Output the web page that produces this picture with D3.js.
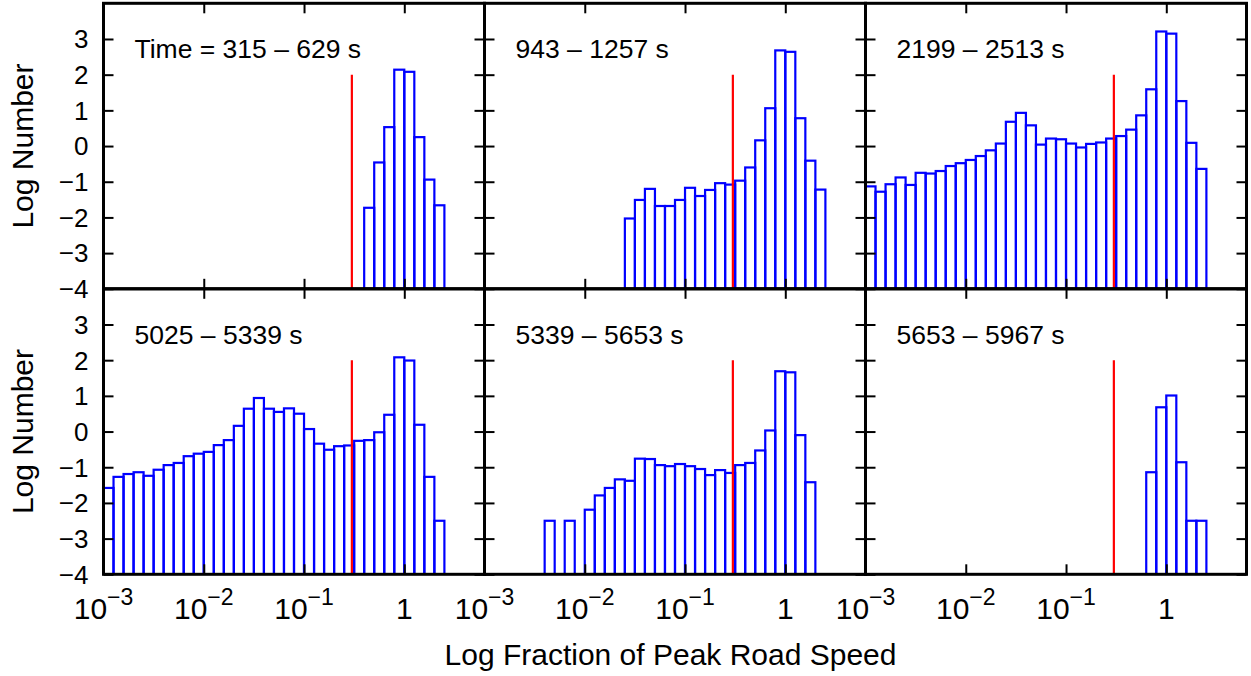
<!DOCTYPE html>
<html><head><meta charset="utf-8">
<script src="https://cdn.jsdelivr.net/npm/d3@7"></script>
<style>
body{margin:0;background:#fff}
svg{display:block}
text{font-family:"Liberation Sans",Arial,Helvetica,sans-serif;fill:#000}
</style>
</head><body>
<svg id="chart" width="1251" height="676"></svg>
<script>
// ---------------- data ----------------
const panelTitles = ["Time = 315 \u2013 629 s", "943 \u2013 1257 s", "2199 \u2013 2513 s",
                     "5025 \u2013 5339 s", "5339 \u2013 5653 s", "5653 \u2013 5967 s"];
// log10 of the lower edge of the first bin of each panel; bins are 0.1 decade wide
const firstBinLog = [-0.4, -1.6, -3.1, -3.1, -2.4, -0.2];
const binWidthLog = 0.1;
const logCounts1 = [-1.73, -0.46, 0.53, 2.14, 2.08, 0.25, -0.94, -1.66];
const logCounts2 = [-2.03, -1.51, -1.20, -1.68, -1.68, -1.51, -1.17, -1.40, -1.23, -1.04,
                    -1.08, -0.97, -0.60, 0.16, 1.06, 2.68, 2.64, 0.78, -0.41, -1.22];
const logCounts3 = [-1.48, -1.13, -1.28, -1.07, -0.88, -1.09, -0.75, -0.77, -0.70, -0.56,
                    -0.48, -0.39, -0.28, -0.12, 0.07, 0.68, 0.93, 0.58, 0.04, 0.21,
                    0.19, 0.07, -0.04, 0.06, 0.10, 0.21, 0.28, 0.46, 0.86, 1.59,
                    3.21, 3.15, 1.26, 0.09, -0.64];
const logCounts4 = [-1.34, -1.58, -1.27, -1.19, -1.14, -1.24, -1.07, -0.94, -0.88, -0.69,
                    -0.62, -0.57, -0.38, -0.24, 0.16, 0.64, 0.94, 0.64, 0.55, 0.65,
                    0.50, 0.07, -0.34, -0.51, -0.41, -0.39, -0.26, -0.24, -0.02, 0.47,
                    2.08, 1.99, 0.19, -1.27, -2.50];
const logCounts5 = [-2.50, null, -2.50, null, -2.19, -1.79, -1.58, -1.34, -1.38, -0.76,
                    -0.77, -0.94, -0.97, -0.91, -0.97, -1.05, -1.22, -1.08, -1.16, -0.94,
                    -0.88, -0.53, 0.03, 1.69, 1.66, -0.10, -1.42];
const logCounts6 = [-1.14, 0.68, 1.01, -0.86, -2.50, -2.50];
const thresholdSpeed = 0.3;     // red marker
const thresholdTop = 2;         // red marker top (log number)
const yTicks = [-4, -3, -2, -1, 0, 1, 2, 3];
const yTickLabels = ["\u22124", "\u22123", "\u22122", "\u22121", "0", "1", "2", "3"];
const xTicks = [0.001, 0.01, 0.1, 1];
const xTickExponents = ["\u22123", "\u22122", "\u22121", null];
const xTitle = "Log Fraction of Peak Road Speed";
const yTitle = "Log Number";

const allCounts = [logCounts1, logCounts2, logCounts3, logCounts4, logCounts5, logCounts6];

// ---------------- layout ----------------
const gridLeft = 103.5, gridTop = 3.3, panelW = 381, panelH = 285.5;
const svg = d3.select("#chart");

const x = d3.scaleLog().domain([1e-3, Math.pow(10, 0.8)]).range([0, panelW]);
const y = d3.scaleLinear().domain([-4, 4]).range([panelH, 0]);

const defs = svg.append("defs");
defs.append("clipPath").attr("id", "pclip")
  .append("rect").attr("x", 0).attr("y", 0).attr("width", panelW).attr("height", panelH);

allCounts.forEach((vals, p) => {
  const col = p % 3, row = Math.floor(p / 3);
  const px = gridLeft + col * panelW, py = gridTop + row * panelH;
  const g = svg.append("g").attr("transform", `translate(${px},${py})`);

  const plot = g.append("g").attr("clip-path", "url(#pclip)");
  const bins = vals.map((v, i) => ({
    lo: Math.pow(10, firstBinLog[p] + i * binWidthLog),
    hi: Math.pow(10, firstBinLog[p] + (i + 1) * binWidthLog),
    v
  })).filter(d => d.v !== null);

  plot.selectAll("rect.bar").data(bins).join("rect")
    .attr("class", "bar")
    .attr("x", d => x(d.lo))
    .attr("width", d => x(d.hi) - x(d.lo))
    .attr("y", d => y(d.v))
    .attr("height", d => y(-4) - y(d.v))
    .attr("fill", "none")
    .attr("stroke", "#0000ff")
    .attr("stroke-width", 2.2);

  plot.append("line")
    .attr("x1", x(thresholdSpeed)).attr("x2", x(thresholdSpeed))
    .attr("y1", y(-4)).attr("y2", y(thresholdTop))
    .attr("stroke", "#ff0000").attr("stroke-width", 2.2);

  // ticks (inward, all four sides)
  const tk = 10;
  const axes = [
    g.append("g").call(d3.axisLeft(y).tickValues(yTicks).tickSizeInner(-tk).tickSizeOuter(0).tickFormat("")),
    g.append("g").attr("transform", `translate(${panelW},0)`).call(d3.axisRight(y).tickValues(yTicks).tickSizeInner(-tk).tickSizeOuter(0).tickFormat("")),
    g.append("g").attr("transform", `translate(0,${panelH})`).call(d3.axisBottom(x).tickValues(xTicks).tickSizeInner(-tk).tickSizeOuter(0).tickFormat("")),
    g.append("g").call(d3.axisTop(x).tickValues(xTicks).tickSizeInner(-tk).tickSizeOuter(0).tickFormat(""))
  ];
  axes.forEach(a => {
    a.select(".domain").remove();
    a.selectAll(".tick line").attr("stroke", "#000").attr("stroke-width", 2);
  });

  g.append("rect").attr("x", 0).attr("y", 0).attr("width", panelW).attr("height", panelH)
    .attr("fill", "none").attr("stroke", "#000").attr("stroke-width", 3);

  g.append("text").attr("x", 31).attr("y", 54.8)
    .attr("font-size", 26.5).text(panelTitles[p]);

  if (col === 0) {
    g.selectAll("text.yl").data(yTicks).join("text")
      .attr("class", "yl")
      .attr("x", -15).attr("y", d => y(d)).attr("dy", "0.36em")
      .attr("text-anchor", "end").attr("font-size", 26)
      .text((d, i) => yTickLabels[i]);
    svg.append("text")
      .attr("transform", `translate(33,${py + panelH / 2}) rotate(-90)`)
      .attr("text-anchor", "middle").attr("font-size", 30).text(yTitle);
  }
  if (row === 1) {
    xTicks.forEach((t, i) => {
      const tx = g.append("text").attr("x", x(t)).attr("y", panelH + 45)
        .attr("text-anchor", "middle").attr("font-size", 30);
      if (xTickExponents[i] === null) {
        tx.text("1");
      } else {
        tx.append("tspan").text("10");
        tx.append("tspan").attr("dy", -14).attr("font-size", 23).text(xTickExponents[i]);
      }
    });
  }
});

svg.append("text").attr("x", 670.5).attr("y", 665)
  .attr("text-anchor", "middle").attr("font-size", 30).text(xTitle);
</script>
</body></html>
